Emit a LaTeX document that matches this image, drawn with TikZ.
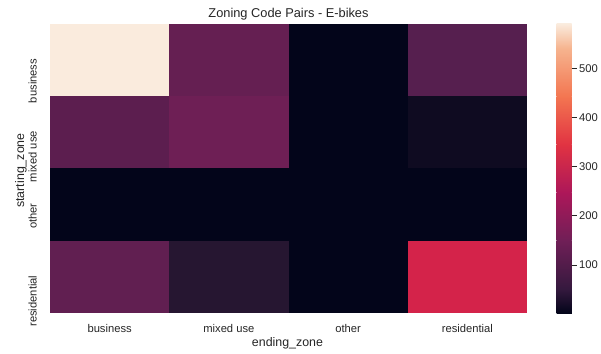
\documentclass[tikz,border=0pt]{standalone}
\usepackage{fontspec}
\setmainfont{Liberation Sans}
\definecolor{txt}{HTML}{262626}
% cell colours (row, column)
\definecolor{c00}{HTML}{FAEBDD}
\definecolor{c01}{HTML}{651F52}
\definecolor{c02}{HTML}{03051A}
\definecolor{c03}{HTML}{561F4F}
\definecolor{c10}{HTML}{5C1E4F}
\definecolor{c11}{HTML}{6E1F55}
\definecolor{c12}{HTML}{03051A}
\definecolor{c13}{HTML}{0F0B21}
\definecolor{c20}{HTML}{03051A}
\definecolor{c21}{HTML}{03051A}
\definecolor{c22}{HTML}{03051A}
\definecolor{c23}{HTML}{03051A}
\definecolor{c30}{HTML}{611F51}
\definecolor{c31}{HTML}{261631}
\definecolor{c32}{HTML}{03051A}
\definecolor{c33}{HTML}{D4234A}
% rocket colormap stops
\definecolor{k0}{HTML}{03051A}
\definecolor{k1}{HTML}{35193E}
\definecolor{k2}{HTML}{701F57}
\definecolor{k3}{HTML}{AD1759}
\definecolor{k4}{HTML}{E13342}
\definecolor{k5}{HTML}{F37651}
\definecolor{k6}{HTML}{F6B48F}
\definecolor{k7}{HTML}{FAEBDD}
\begin{document}
\begin{tikzpicture}[x=1pt,y=1pt,
  ticklab/.style={text=txt,font=\fontsize{11.2}{13}\selectfont,inner sep=0pt},
  axlab/.style={text=txt,font=\fontsize{12.4}{14}\selectfont,inner sep=0pt},
  titlelab/.style={text=txt,font=\fontsize{12.8}{15}\selectfont,inner sep=0pt}]
\useasboundingbox (0,0) rectangle (601,353);
\fill[white] (0,0) rectangle (601,353);
% heatmap cells
\def\cw{119.25}
\def\ch{72.25}
\foreach \r in {0,1,2,3}{
  \foreach \j in {0,1,2,3}{
    \fill[c\r\j] ({50+\j*\cw},{329-(\r+1)*\ch-0.2}) rectangle ({50+(\j+1)*\cw+0.2},{329-\r*\ch});
  }
}
% colour bar
\foreach \a/\b/\ca/\cb in {0/0.083/k0/k1,0.083/0.25/k1/k2,0.25/0.417/k2/k3,0.417/0.583/k3/k4,0.583/0.75/k4/k5,0.75/0.917/k5/k6,0.917/1/k6/k7}{
  \shade[bottom color=\ca,top color=\cb] (556.7,{40+\a*288.7}) rectangle (571.7,{40+\b*288.7+0.3});
}
\fill[k0] (556.7,40) rectangle (571.7,40.5);
\foreach \v in {100,200,300,400,500}{
  \draw[txt,line width=0.8pt] (571.7,{88+(\v-100)*0.4918}) -- (577,{88+(\v-100)*0.4918});
  \node[ticklab,anchor=west] (cb\v) at (579,{88+(\v-100)*0.4918}) {\v};
}
% title
\node[titlelab,anchor=base] (title) at (288.5,335.5) {Zoning Code Pairs - E-bikes};
% x tick labels
\node[ticklab,anchor=base] (xb) at ({50+0.5*\cw},20.5) {business};
\node[ticklab,anchor=base] (xm) at ({50+1.5*\cw},20.5) {mixed use};
\node[ticklab,anchor=base] (xo) at ({50+2.5*\cw},20.5) {other};
\node[ticklab,anchor=base] (xr) at ({50+3.5*\cw},20.5) {residential};
\node[axlab,anchor=base] (xlab) at (287.5,7) {ending\_zone};
% y tick labels
\node[ticklab,anchor=base east,rotate=90] (yb) at (36.5,{329-0.5*\ch+1.5}) {business};
\node[ticklab,anchor=base east,rotate=90] (ym) at (36.5,{329-1.5*\ch+1.5}) {mixed use};
\node[ticklab,anchor=base east,rotate=90] (yo) at (36.5,{329-2.5*\ch+1.5}) {other};
\node[ticklab,anchor=base east,rotate=90] (yr) at (36.5,{329-3.5*\ch+1.5}) {residential};
\node[axlab,rotate=90] (ylab) at (21,182.5) {starting\_zone};
\end{tikzpicture}
\end{document}
